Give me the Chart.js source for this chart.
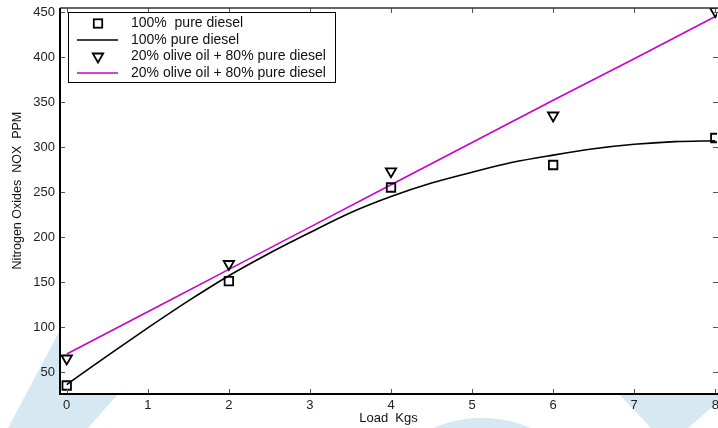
<!DOCTYPE html>
<html><head><meta charset="utf-8">
<script src="https://cdn.jsdelivr.net/npm/chart.js@4.4.0/dist/chart.umd.min.js"></script>
<style>html,body{margin:0;padding:0;background:#fff;overflow:hidden}#wrap{width:718px;height:428px;position:relative}</style>
</head><body><div id="wrap"><canvas id="c" width="718" height="428"></canvas></div>
<script>
// ---- data ----
const loadKgs = [0, 2, 4, 6, 8];
const pureDieselNOx = [35, 151, 255, 280, 310];
const blendNOx = [65, 170, 273, 335, 451];
const pureFitLoad = [0, 0.5, 1, 1.5, 2, 2.5, 3, 3.5, 4, 4.5, 5, 5.5, 6, 6.5, 7, 7.5, 8];
const pureFitNOx = [36, 68, 99, 129, 157, 182, 205, 227, 245, 260, 272, 283, 291, 298, 303, 306, 307];
const blendFitLoad = [0, 1, 2, 3, 4, 5, 6, 7, 8];
const blendFitNOx = [70, 117, 164, 211, 258, 305, 352, 398, 445];
const xTicks = [0, 1, 2, 3, 4, 5, 6, 7, 8];
const yTicks = [50, 100, 150, 200, 250, 300, 350, 400, 450];
const seriesNames = ['100%  pure diesel', '100% pure diesel', '20% olive oil + 80% pure diesel', '20% olive oil + 80% pure diesel'];
const xTitle = 'Load  Kgs';
const yTitle = 'Nitrogen Oxides  NOX  PPM';

const FONT = 'Liberation Sans, Arial, Helvetica, sans-serif';
const MAGENTA = '#cc00cc';
const pts = (xs, ys) => xs.map((x, i) => ({x: x, y: ys[i]}));
const noPad = () => ({left: 0, top: 0, right: 0, bottom: 0});

const framePlugin = {
  id: 'frame',
  beforeDraw(chart) {
    const ctx = chart.ctx, a = chart.chartArea;
    ctx.save();
    ctx.fillStyle = '#d6e8f2';
    const poly = (p) => { ctx.beginPath(); ctx.moveTo(p[0][0], p[0][1]); for (let i = 1; i < p.length; i++) ctx.lineTo(p[i][0], p[i][1]); ctx.closePath(); ctx.fill(); };
    poly([[8, 428], [60, 330], [60, 394], [118, 394], [88, 428]]);
    poly([[619, 394], [718, 394], [718, 402], [688, 428], [651, 428]]);
    ctx.beginPath(); ctx.ellipse(482, 484, 92, 66, 0, 0, Math.PI * 2); ctx.fill();
    ctx.fillStyle = '#fff';
    ctx.fillRect(a.left, a.top, a.right - a.left + 1, a.bottom - a.top);
    ctx.restore();
  },
  afterDatasetsDraw(chart) {
    const ctx = chart.ctx, a = chart.chartArea, xs = chart.scales.x, ys = chart.scales.y;
    ctx.save();
    ctx.strokeStyle = '#555'; ctx.lineWidth = 1;
    ctx.beginPath();
    xTicks.forEach(v => { const p = Math.round(xs.getPixelForValue(v)) + 0.5; ctx.moveTo(p, a.bottom); ctx.lineTo(p, a.bottom - 5); ctx.moveTo(p, a.top); ctx.lineTo(p, a.top + 5); });
    yTicks.forEach(v => { const p = Math.round(ys.getPixelForValue(v)) + 0.5; ctx.moveTo(a.left, p); ctx.lineTo(a.left + 5, p); ctx.moveTo(a.right + 1, p); ctx.lineTo(a.right - 4, p); });
    ctx.stroke();
    ctx.strokeStyle = '#333'; ctx.lineWidth = 1.5;
    ctx.beginPath(); ctx.moveTo(a.left, a.top); ctx.lineTo(a.right + 1, a.top); ctx.stroke();
    ctx.strokeStyle = '#000'; ctx.lineWidth = 2;
    ctx.beginPath(); ctx.moveTo(a.left, a.top); ctx.lineTo(a.left, a.bottom); ctx.lineTo(a.right + 1, a.bottom); ctx.stroke();
    ctx.restore();
  },
  afterDraw(chart) {
    const ctx = chart.ctx;
    ctx.save();
    const bx = 68.5, by = 12.5, bw = 267, bh = 70;
    ctx.fillStyle = '#fff'; ctx.fillRect(bx, by, bw, bh);
    ctx.strokeStyle = '#000'; ctx.lineWidth = 1; ctx.strokeRect(bx, by, bw, bh);
    const rows = [23.5, 40, 56.5, 73];
    const mx = 98;
    ctx.lineWidth = 1.8; ctx.strokeStyle = '#000';
    ctx.strokeRect(mx - 4.2, rows[0] - 4.2, 8.4, 8.4);
    ctx.lineWidth = 1.6;
    ctx.beginPath(); ctx.moveTo(77, rows[1]); ctx.lineTo(118, rows[1]); ctx.stroke();
    ctx.lineWidth = 1.8;
    const r = 6;
    ctx.beginPath();
    ctx.moveTo(mx, rows[2] + r);
    ctx.lineTo(mx - r * 0.866, rows[2] - r / 2);
    ctx.lineTo(mx + r * 0.866, rows[2] - r / 2);
    ctx.closePath(); ctx.stroke();
    ctx.strokeStyle = MAGENTA; ctx.lineWidth = 1.6;
    ctx.beginPath(); ctx.moveTo(77, rows[3]); ctx.lineTo(118, rows[3]); ctx.stroke();
    ctx.fillStyle = '#111'; ctx.font = '14px ' + FONT; ctx.textBaseline = 'middle'; ctx.textAlign = 'left';
    chart.data.datasets.forEach((d, i) => ctx.fillText(d.label, 131, rows[i]));
    ctx.restore();
  }
};

new Chart(document.getElementById('c'), {
  type: 'scatter',
  data: {
    datasets: [
      {label: seriesNames[0], data: pts(loadKgs, pureDieselNOx), showLine: false, pointStyle: 'rect', pointRadius: 6, pointHoverRadius: 6,
       borderColor: '#000', backgroundColor: 'rgba(0,0,0,0)', pointBorderWidth: 1.8, order: 1},
      {label: seriesNames[1], data: pts(pureFitLoad, pureFitNOx), showLine: true, pointRadius: 0, borderColor: '#000', borderWidth: 1.6,
       cubicInterpolationMode: 'monotone', order: 2},
      {label: seriesNames[2], data: pts(loadKgs, blendNOx), showLine: false, pointStyle: 'triangle', rotation: 180, pointRadius: 6, pointHoverRadius: 6,
       borderColor: '#000', backgroundColor: 'rgba(0,0,0,0)', pointBorderWidth: 1.8, order: 3},
      {label: seriesNames[3], data: pts(blendFitLoad, blendFitNOx), showLine: true, pointRadius: 0, borderColor: MAGENTA, borderWidth: 1.6, order: 4}
    ]
  },
  options: {
    responsive: false, animation: false, devicePixelRatio: 1,
    layout: {autoPadding: false, padding: {top: 8, right: 1, left: 0, bottom: 0}},
    plugins: {legend: {display: false}, tooltip: {enabled: false}},
    scales: {
      x: {
        type: 'linear', min: -0.083, max: 8.021,
        afterBuildTicks: s => { s.ticks = xTicks.map(v => ({value: v})); },
        afterFit: s => { s.height = 34; s.paddingLeft = 0; s.paddingRight = 0; s.getPadding = noPad; },
        grid: {display: false, drawTicks: false}, border: {display: false},
        ticks: {padding: 4, color: '#222', font: {family: FONT, size: 13}, maxRotation: 0, autoSkip: false},
        title: {display: true, text: xTitle, color: '#111', font: {family: FONT, size: 13}, padding: {top: 0, bottom: 2}}
      },
      y: {
        type: 'linear', min: 25.56, max: 454.44,
        afterBuildTicks: s => { s.ticks = yTicks.map(v => ({value: v})); },
        afterFit: s => { s.width = 60; s.paddingTop = 0; s.paddingBottom = 0; s.getPadding = noPad; },
        grid: {display: false, drawTicks: false}, border: {display: false},
        ticks: {padding: 5, color: '#222', font: {family: FONT, size: 13}, autoSkip: false},
        title: {display: true, text: '      ' + yTitle, color: '#111', font: {family: FONT, size: 12.5}, padding: {top: 10, bottom: 0}}
      }
    }
  },
  plugins: [framePlugin]
});
</script></body></html>
